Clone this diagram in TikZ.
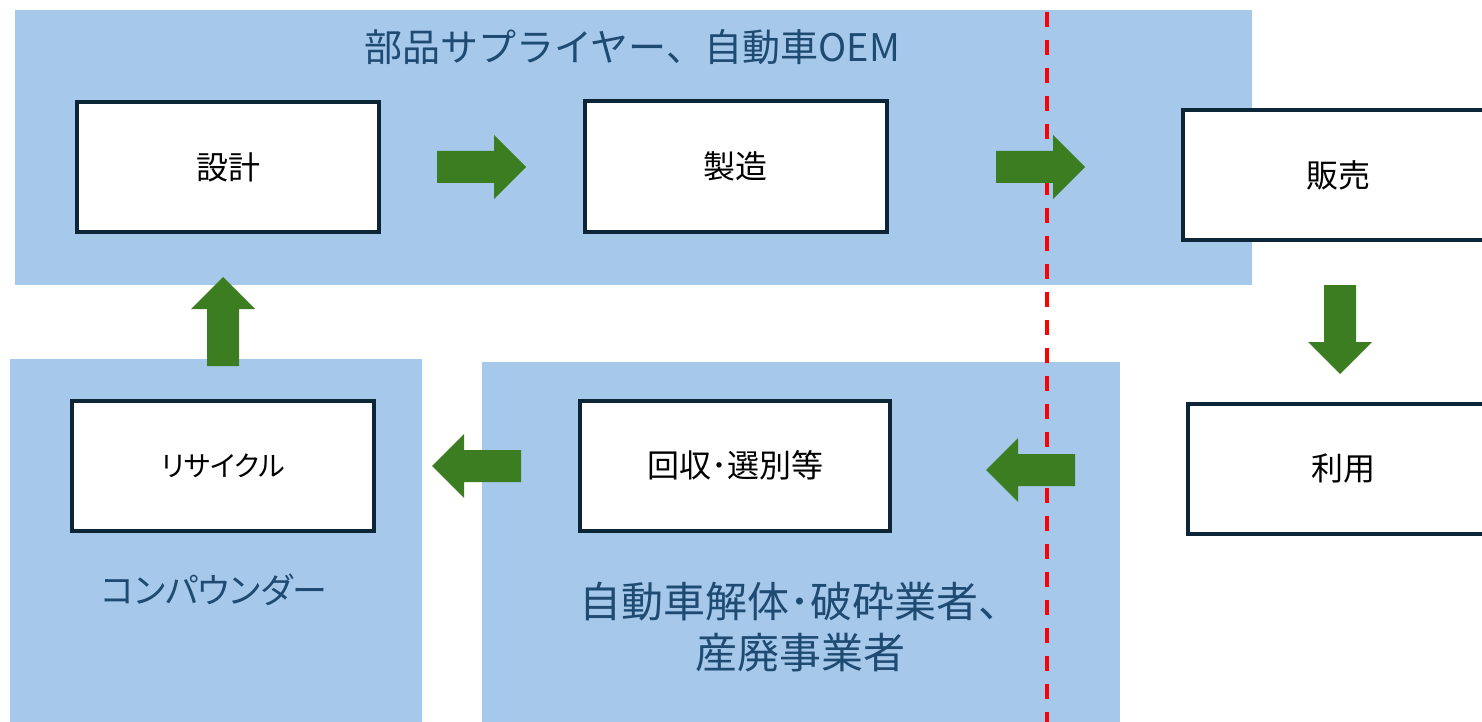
\documentclass[tikz,border=0pt]{standalone}
\usepackage{fontspec}
\setmainfont{Noto Sans CJK JP}
\newfontfamily\kanafont{Noto Sans CJK JP}[RawFeature=+palt]
\definecolor{bandblue}{HTML}{A6C9EB}
\definecolor{arrowgreen}{HTML}{3C7D22}
\definecolor{boxline}{HTML}{0C2638}
\definecolor{titleblue}{HTML}{1F4A72}
\definecolor{dashred}{HTML}{FF0000}
\begin{document}
\begin{tikzpicture}[x=1pt,y=-1pt,
  band/.style={fill=bandblue,draw=none},
  procbox/.style={draw=boxline,line width=4pt,fill=white,minimum width=302pt,
    minimum height=130pt,inner sep=0pt,font=\fontsize{32}{38}\selectfont},
  grouptitle/.style={text=titleblue,font=\fontsize{38}{51}\selectfont,align=center,inner sep=0pt},
  divider/.style={draw=dashred,line width=3.5pt,dash pattern=on 15pt off 13pt},
  blockarrow/.pic={\fill[arrowgreen] (0,-16) -- (57,-16) -- (57,-32) -- (89,0) -- (57,32) -- (57,16) -- (0,16) -- cycle;}
]
\useasboundingbox (0,0) rectangle (1482,722);
\clip (0,0) rectangle (1482,722);

% group bands
\fill[band] (15,10) rectangle (1252,285);
\fill[band] (10,359) rectangle (422,722);
\fill[band] (482,362) rectangle (1120,722);

% divider
\coordinate (dtop) at (1047,12);
\coordinate (dbot) at (1047,722);
\draw[divider] (dtop) -- (dbot);

% group titles
\node[grouptitle] (g1) at (632,47) {部品サプライヤー、自動車OEM};
\node[grouptitle,font=\kanafont\fontsize{35}{42}\selectfont] (g2) at (214,590) {コンパウンダー};
\node[grouptitle,font=\fontsize{42}{51}\selectfont] (g3) at (800,627.5) {自動車解体･破砕業者、\\産廃事業者};

% process boxes
\node[procbox] (design) at (228,167) {設計};
\node[procbox] (manuf) at (735.5,166.5) {製造};
\node[procbox,minimum width=310pt] (sales) at (1338,175) {販売};
\node[procbox,minimum width=310pt] (use) at (1343,469) {利用};
\node[procbox,minimum width=310pt] (collect) at (735,465.5) {回収･選別等};
\node[procbox,font=\kanafont\fontsize{28}{34}\selectfont] (recycle) at (223,466) {リサイクル};

% block arrows
\pic (a1) at (437,167) {blockarrow};
\pic (a2) at (996,167) {blockarrow};
\pic[rotate=-90] (a3) at (1340,285) {blockarrow};
\pic[rotate=180] (a4) at (1075,470) {blockarrow};
\pic[rotate=180] (a5) at (521,466) {blockarrow};
\pic[rotate=90] (a6) at (223,366) {blockarrow};
\end{tikzpicture}
\end{document}
